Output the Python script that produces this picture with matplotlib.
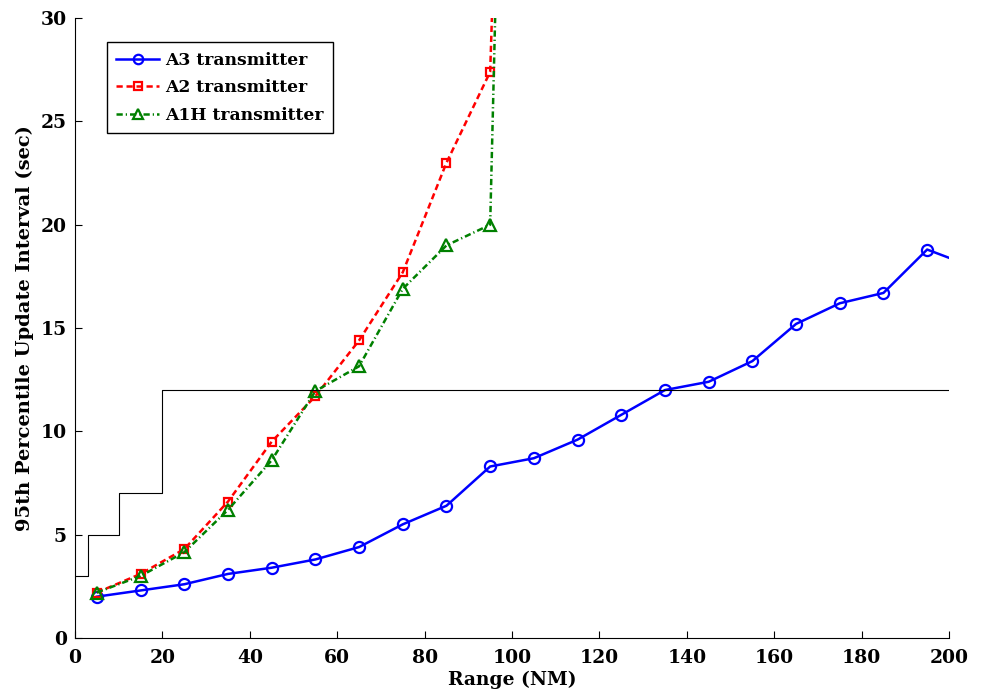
import matplotlib
matplotlib.use('Agg')
import matplotlib.pyplot as plt

# data
range_nm = [5, 15, 25, 35, 45, 55, 65, 75, 85, 95, 105, 115, 125, 135, 145,
            155, 165, 175, 185, 195, 205]
a3 = [2.0, 2.3, 2.6, 3.1, 3.4, 3.8, 4.4, 5.5, 6.4, 8.3, 8.7, 9.6, 10.8, 12.0,
      12.4, 13.4, 15.2, 16.2, 16.7, 18.8, 18.0]

range_a2 = [5, 15, 25, 35, 45, 55, 65, 75, 85, 95, 105]
a2 = [2.2, 3.1, 4.3, 6.6, 9.5, 11.7, 14.4, 17.7, 23.0, 27.4, 93.0]

range_a1h = [5, 15, 25, 35, 45, 55, 65, 75, 85, 95, 105]
a1h = [2.2, 3.0, 4.15, 6.2, 8.6, 11.95, 13.15, 16.9, 19.0, 20.0, 108.0]

req_x = [0, 3, 10, 20, 200]
req_y = [3, 5, 7, 12, 12]

plt.rcParams['font.family'] = 'DejaVu Serif'
plt.rcParams['font.weight'] = 'bold'

fig = plt.figure(figsize=(9.82, 6.98), dpi=100)
ax = fig.add_axes([0.0764, 0.086, 0.89, 0.888])

ax.plot(range_nm, a3, '-o', color='blue', lw=1.8, ms=8, mfc='none', mew=1.6,
        label='A3 transmitter')
ax.plot(range_a2, a2, 's', ls='--', dashes=(2.5, 1.5), color='red', lw=1.8,
        ms=6, mfc='none', mew=1.6, label='A2 transmitter')
ax.plot(range_a1h, a1h, '^', ls='-.', dashes=(2.5, 1.2, 0.5, 1.2),
        color='green', lw=1.8, ms=9, mfc='none', mew=1.6,
        label='A1H transmitter')
ax.step(req_x, req_y, where='post', color='black', lw=0.8)

ax.set_xlim(0, 200)
ax.set_ylim(0, 30)
ax.set_xticks(range(0, 201, 20))
ax.set_yticks(range(0, 31, 5))
ax.tick_params(direction='in', length=5, labelsize=13.5)
ax.tick_params(axis='x', pad=8)
ax.tick_params(axis='y', pad=6)
ax.spines['top'].set_visible(False)
ax.spines['right'].set_visible(False)
ax.set_xlabel('Range (NM)', fontsize=13.5, fontweight='bold', labelpad=3)
ax.set_ylabel('95th Percentile Update Interval (sec)', fontsize=14,
              fontweight='bold', labelpad=5)

leg = ax.legend(loc='upper left', bbox_to_anchor=(0.0366, 0.961),
                borderaxespad=0, fontsize=12.3, fancybox=False,
                edgecolor='black', framealpha=1, handlelength=2.5,
                handletextpad=0.35, borderpad=0.55, labelspacing=0.62,
                markerscale=0.85)
leg.get_frame().set_linewidth(1.0)

fig.savefig('out.png', dpi=100)
